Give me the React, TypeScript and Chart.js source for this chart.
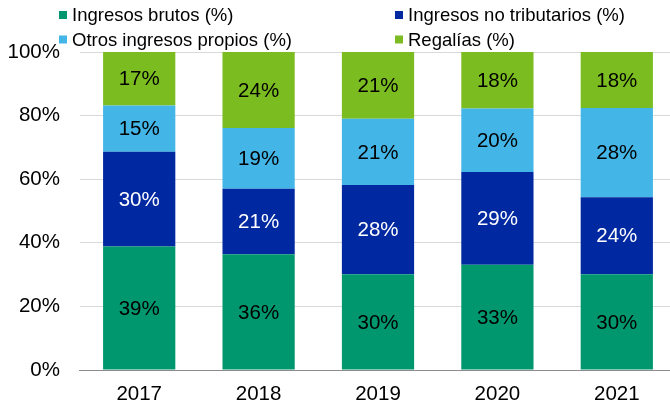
import React, { useEffect, useRef } from "react";
import { Chart, registerables } from "chart.js";

Chart.register(...registerables);

const years = ["2017", "2018", "2019", "2020", "2021"];
const ingresosBrutos = [38.8, 36.4, 30.1, 33.1, 30.1];
const ingresosNoTributarios = [29.8, 20.6, 28.1, 29.2, 24.2];
const otrosIngresosPropios = [14.6, 19.1, 20.8, 19.9, 28.1];
const regalias = [16.8, 23.9, 21.0, 17.8, 17.6];
const yTicks = [0, 20, 40, 60, 80, 100];

const seriesNames = [
  "Ingresos brutos (%)",
  "Ingresos no tributarios (%)",
  "Otros ingresos propios (%)",
  "Regalías (%)",
];
const seriesColors = ["#00976F", "#0028A0", "#43B5E6", "#7BBD21"];
const labelColors = ["#000000", "#FFFFFF", "#000000", "#000000"];

const FONT = "'Liberation Sans', Arial, sans-serif";

export default function App() {
  const ref = useRef<HTMLCanvasElement | null>(null);

  useEffect(() => {
    if (!ref.current) return;

    const valueLabels = {
      id: "valueLabels",
      afterDatasetsDraw(chart: any) {
        const ctx = chart.ctx;
        ctx.save();
        ctx.font = `20.5px ${FONT}`;
        ctx.textAlign = "center";
        ctx.textBaseline = "middle";
        chart.data.datasets.forEach((ds: any, i: number) => {
          const meta = chart.getDatasetMeta(i);
          ctx.fillStyle = labelColors[i];
          meta.data.forEach((bar: any, j: number) => {
            const v = ds.data[j];
            const y = (bar.y + bar.base) / 2;
            ctx.fillText(`${Math.round(v)}%`, bar.x, y + 1);
          });
        });
        ctx.restore();
      },
    };

    const legendGrid = {
      id: "legendGrid",
      afterDraw(chart: any) {
        const ctx = chart.ctx;
        ctx.save();
        ctx.font = `18.5px ${FONT}`;
        ctx.textAlign = "left";
        ctx.textBaseline = "middle";
        const cols = [59, 395];
        const rows = [15, 39.5];
        seriesNames.forEach((name, i) => {
          const x = cols[i % 2];
          const y = rows[Math.floor(i / 2)];
          ctx.fillStyle = seriesColors[i];
          ctx.fillRect(x, y - 4, 8, 8);
          ctx.fillStyle = "#000000";
          ctx.fillText(name, x + 13, y + 1);
        });
        ctx.restore();
      },
    };

    const chart = new Chart(ref.current, {
      type: "bar",
      data: {
        labels: years,
        datasets: [
          { label: seriesNames[0], data: ingresosBrutos, backgroundColor: seriesColors[0] },
          { label: seriesNames[1], data: ingresosNoTributarios, backgroundColor: seriesColors[1] },
          { label: seriesNames[2], data: otrosIngresosPropios, backgroundColor: seriesColors[2] },
          { label: seriesNames[3], data: regalias, backgroundColor: seriesColors[3] },
        ],
      },
      options: {
        animation: false,
        responsive: false,
        maintainAspectRatio: false,
        layout: { padding: { top: 52, right: 3.5, left: 0, bottom: 0 } },
        datasets: {
          bar: { categoryPercentage: 1, barPercentage: 0.605, borderWidth: 0 },
        },
        plugins: {
          legend: { display: false },
          title: { display: false },
          tooltip: { enabled: false },
        },
        scales: {
          x: {
            stacked: true,
            grid: { display: false, drawTicks: false },
            border: { display: true, color: "#8C8C8C", width: 1 },
            ticks: {
              color: "#000000",
              font: { family: FONT, size: 20.5 },
              padding: 12,
              maxRotation: 0,
            },
            afterFit(scale: any) {
              scale.height = 38;
            },
          },
          y: {
            stacked: true,
            min: 0,
            max: 100,
            afterBuildTicks(scale: any) {
              scale.ticks = yTicks.map((v) => ({ value: v }));
            },
            grid: { color: "#D9D9D9", lineWidth: 1, drawTicks: false },
            border: { display: false },
            ticks: {
              color: "#000000",
              font: { family: FONT, size: 20.5 },
              padding: 19.5,
              callback: (v: any) => `${v}%`,
            },
            afterFit(scale: any) {
              scale.width = 79.5;
            },
          },
        },
      },
      plugins: [valueLabels, legendGrid],
    });

    return () => chart.destroy();
  }, []);

  return (
    <div
      style={{
        position: "fixed",
        left: 0,
        top: 0,
        width: 670,
        height: 408,
        overflow: "hidden",
        background: "#FFFFFF",
      }}
    >
      <canvas ref={ref} width={680} height={408} style={{ width: 680, height: 408, display: "block" }} />
    </div>
  );
}
